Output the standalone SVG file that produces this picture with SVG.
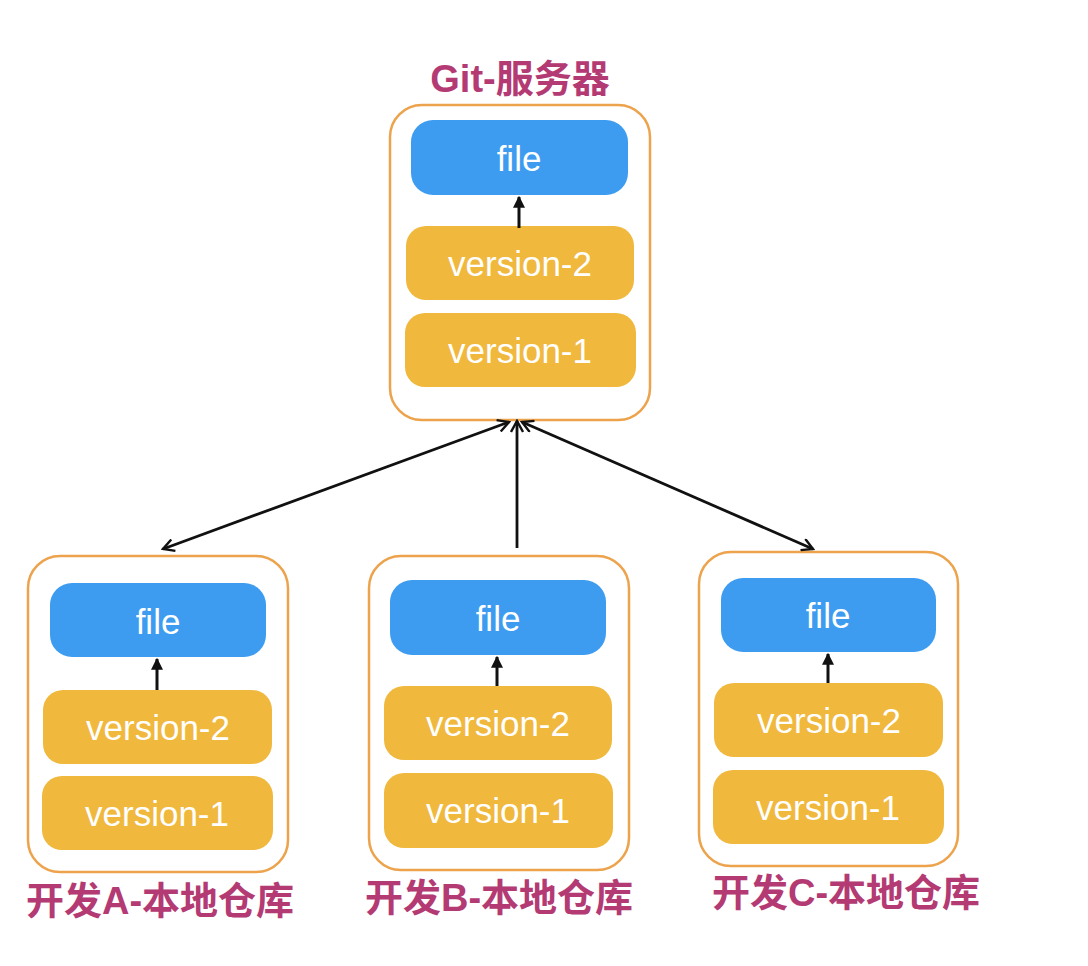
<svg xmlns="http://www.w3.org/2000/svg" width="1088" height="966" viewBox="0 0 1088 966">
<defs>
<style>
.box{fill:#ffffff;stroke:#EDA24C;stroke-width:2.5}
.file{fill:#3D9CF0}
.ver{fill:#F0B83C}
.t{font-family:"Liberation Sans",Arial,sans-serif;font-size:35px;fill:#ffffff;text-anchor:middle}
.lbl{font-family:"Liberation Sans","Noto Sans CJK SC",sans-serif;font-size:38px;font-weight:bold;fill:#B43A74;text-anchor:middle}
.conn{stroke:#111111;stroke-width:2.8;fill:none}
.small{stroke:#111111;stroke-width:3;fill:none}
</style>
<marker id="open" viewBox="0 0 14 14" refX="12" refY="7" markerWidth="14" markerHeight="14" markerUnits="userSpaceOnUse" orient="auto-start-reverse">
<path d="M1,1 L12,7 L1,13" fill="none" stroke="#111" stroke-width="2.4"/>
</marker>
<marker id="tri" viewBox="0 0 10 10" refX="9" refY="5" markerWidth="12" markerHeight="12" markerUnits="userSpaceOnUse" orient="auto">
<path d="M0,0 L10,5 L0,10 Z" fill="#111"/>
</marker>
</defs>
<rect width="1088" height="966" fill="#ffffff"/>

<g id="server">
<text class="lbl" x="520" y="92">Git-服务器</text>
<rect class="box" x="390" y="105" width="260" height="315" rx="32"/>
<rect class="file" x="411" y="120" width="217" height="75" rx="22"/>
<text class="t" x="519" y="171">file</text>
<rect class="ver" x="406" y="226" width="228" height="74" rx="20"/>
<text class="t" x="520" y="276">version-2</text>
<rect class="ver" x="405" y="313" width="231" height="74" rx="20"/>
<text class="t" x="520" y="363">version-1</text>
<line class="small" x1="519" y1="228" x2="519" y2="197" marker-end="url(#tri)"/>
</g>

<g id="devA">
<rect class="box" x="28" y="556" width="260" height="316" rx="32"/>
<rect class="file" x="50" y="583" width="216" height="74" rx="22"/>
<text class="t" x="158" y="634">file</text>
<rect class="ver" x="43" y="690" width="229" height="74" rx="20"/>
<text class="t" x="158" y="740">version-2</text>
<rect class="ver" x="42" y="776" width="231" height="74" rx="20"/>
<text class="t" x="157" y="826">version-1</text>
<line class="small" x1="157" y1="690" x2="157" y2="659" marker-end="url(#tri)"/>
<text class="lbl" x="160" y="914">开发A-本地仓库</text>
</g>

<g id="devB">
<rect class="box" x="369" y="556" width="260" height="314" rx="32"/>
<rect class="file" x="390" y="580" width="216" height="75" rx="22"/>
<text class="t" x="498" y="631">file</text>
<rect class="ver" x="384" y="686" width="228" height="74" rx="20"/>
<text class="t" x="498" y="736">version-2</text>
<rect class="ver" x="384" y="773" width="229" height="75" rx="20"/>
<text class="t" x="498" y="823">version-1</text>
<line class="small" x1="497" y1="686" x2="497" y2="657" marker-end="url(#tri)"/>
<text class="lbl" x="499" y="911">开发B-本地仓库</text>
</g>

<g id="devC">
<rect class="box" x="699" y="552" width="259" height="314" rx="32"/>
<rect class="file" x="721" y="578" width="215" height="74" rx="22"/>
<text class="t" x="828" y="628">file</text>
<rect class="ver" x="714" y="683" width="229" height="74" rx="20"/>
<text class="t" x="829" y="733">version-2</text>
<rect class="ver" x="713" y="770" width="231" height="74" rx="20"/>
<text class="t" x="828" y="820">version-1</text>
<line class="small" x1="828" y1="683" x2="828" y2="654" marker-end="url(#tri)"/>
<text class="lbl" x="846" y="906">开发C-本地仓库</text>
</g>

<g id="connectors">
<line class="conn" x1="163" y1="549" x2="509" y2="422" marker-start="url(#open)" marker-end="url(#open)"/>
<line class="conn" x1="517" y1="548" x2="517" y2="421" marker-end="url(#open)"/>
<line class="conn" x1="813" y1="549" x2="522" y2="422" marker-start="url(#open)" marker-end="url(#open)"/>
</g>
</svg>
